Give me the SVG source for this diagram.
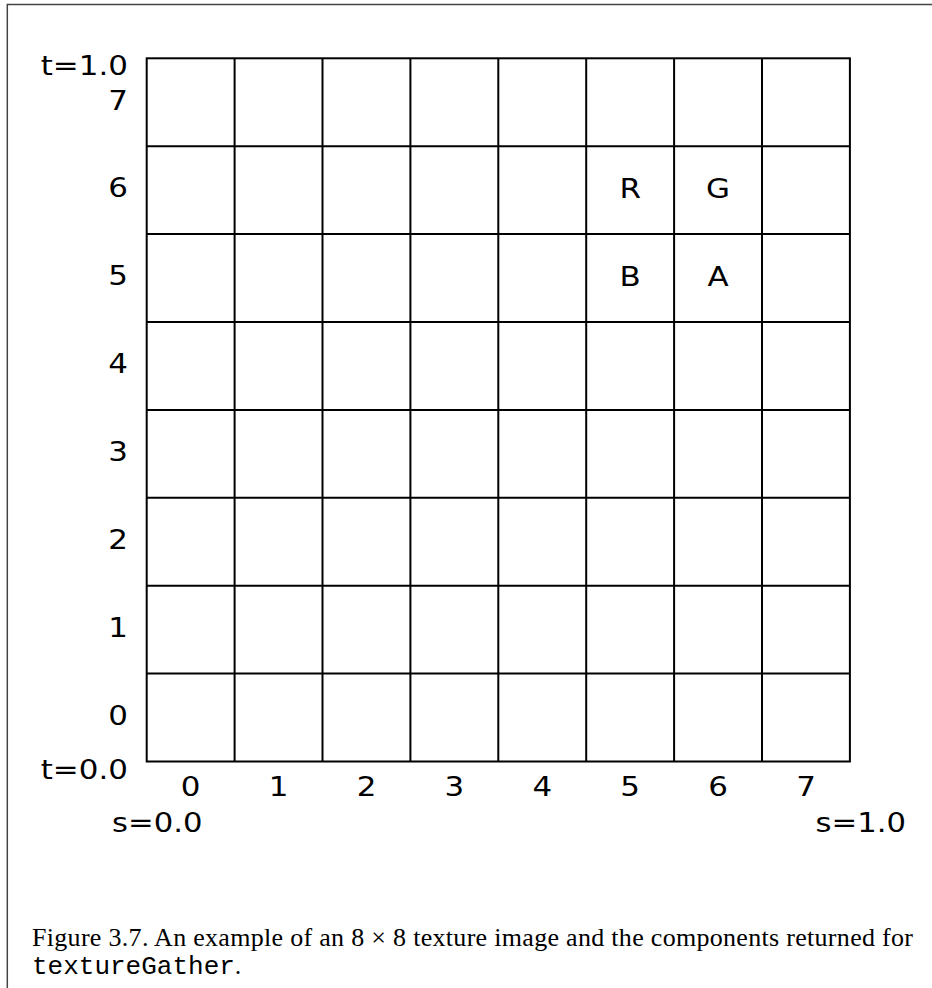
<svg xmlns="http://www.w3.org/2000/svg" width="932" height="988" viewBox="0 0 932 988">
<style>
.lbl{font-family:"DejaVu Sans",Verdana,sans-serif;font-size:27.4px;fill:#000}
.grid line{stroke:#000;stroke-width:2}
.cap{font-family:"Liberation Serif","Times New Roman",serif;font-size:26px;fill:#000}
.mono{font-family:"Liberation Mono","Courier New",monospace;font-size:26px;fill:#000}
</style>
<rect width="932" height="988" fill="#fff"/>
<g id="frame" fill="none" stroke="#444" stroke-width="1.5">
<path d="M7.3,988 V4.5 H932"/>
</g>
<g id="grid" class="grid">
<rect x="146.7" y="58.3" width="703.2" height="703.2" fill="none" stroke="#000" stroke-width="2"/>
<line x1="234.6" y1="58.3" x2="234.6" y2="761.5"/>
<line x1="322.5" y1="58.3" x2="322.5" y2="761.5"/>
<line x1="410.4" y1="58.3" x2="410.4" y2="761.5"/>
<line x1="498.3" y1="58.3" x2="498.3" y2="761.5"/>
<line x1="586.2" y1="58.3" x2="586.2" y2="761.5"/>
<line x1="674.1" y1="58.3" x2="674.1" y2="761.5"/>
<line x1="762.0" y1="58.3" x2="762.0" y2="761.5"/>
<line x1="146.7" y1="146.2" x2="849.9" y2="146.2"/>
<line x1="146.7" y1="234.1" x2="849.9" y2="234.1"/>
<line x1="146.7" y1="322.0" x2="849.9" y2="322.0"/>
<line x1="146.7" y1="409.9" x2="849.9" y2="409.9"/>
<line x1="146.7" y1="497.8" x2="849.9" y2="497.8"/>
<line x1="146.7" y1="585.7" x2="849.9" y2="585.7"/>
<line x1="146.7" y1="673.6" x2="849.9" y2="673.6"/>
</g>
<g id="row-labels" class="lbl" text-anchor="end" transform="translate(128 0) scale(1.13 1)">
<text x="0" y="75.3">t=1.0</text>
<text x="0" y="110.2">7</text>
<text x="0" y="197.5">6</text>
<text x="0" y="285.4">5</text>
<text x="0" y="373.3">4</text>
<text x="0" y="461.2">3</text>
<text x="0" y="549.1">2</text>
<text x="0" y="637.0">1</text>
<text x="0" y="724.9">0</text>
<text x="0" y="779.3">t=0.0</text>
</g>
<g id="col-labels" class="lbl" text-anchor="middle">
<text transform="translate(190.7 796) scale(1.13 1)">0</text>
<text transform="translate(278.6 796) scale(1.13 1)">1</text>
<text transform="translate(366.5 796) scale(1.13 1)">2</text>
<text transform="translate(454.4 796) scale(1.13 1)">3</text>
<text transform="translate(542.3 796) scale(1.13 1)">4</text>
<text transform="translate(630.2 796) scale(1.13 1)">5</text>
<text transform="translate(718.1 796) scale(1.13 1)">6</text>
<text transform="translate(806.0 796) scale(1.13 1)">7</text>
</g>
<g id="s-labels" class="lbl">
<text transform="translate(112 831.7) scale(1.12 1)">s=0.0</text>
<text text-anchor="end" transform="translate(906 831.7) scale(1.12 1)">s=1.0</text>
</g>
<g id="components" class="lbl" text-anchor="middle">
<text transform="translate(630.2 197.7) scale(1.13 1)">R</text>
<text transform="translate(718.1 197.7) scale(1.13 1)">G</text>
<text transform="translate(630.2 286) scale(1.13 1)">B</text>
<text transform="translate(718.1 286) scale(1.13 1)">A</text>
</g>
<g id="caption">
<text class="cap" x="32" y="946" textLength="881" lengthAdjust="spacing">Figure 3.7. An example of an 8 × 8 texture image and the components returned for</text>
<text class="mono" x="32" y="974"><tspan>textureGather</tspan><tspan class="cap">.</tspan></text>
</g>
</svg>
